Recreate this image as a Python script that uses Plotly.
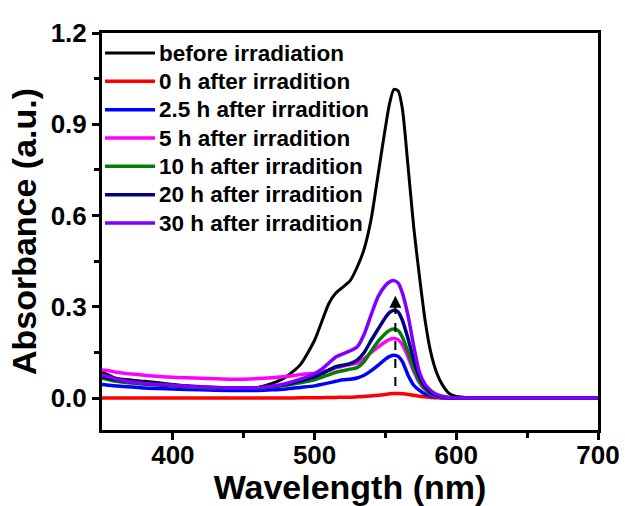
import plotly.graph_objects as go

wavelength = [350, 355, 360, 380, 400, 420, 440, 460, 470, 480, 490, 500, 505, 510, 515, 520,
              525, 530, 535, 540, 545, 550, 553, 556, 559, 562, 566, 570, 574, 578, 582, 586,
              590, 595, 600, 610, 650, 700]

before_irr = [0.085, 0.075, 0.065, 0.055, 0.045, 0.035, 0.030, 0.035, 0.048, 0.070, 0.110, 0.190,
              0.250, 0.310, 0.345, 0.365, 0.385, 0.430, 0.490, 0.590, 0.740, 0.890, 0.970, 1.015,
              1.010, 0.950, 0.760, 0.560, 0.400, 0.255, 0.150, 0.085, 0.045, 0.015, 0.005, 0.001,
              0.0, 0.0]
h0 = [0.0, 0.0, 0.0, 0.0, 0.0, 0.0, 0.0, 0.0, 0.0, 0.0, 0.001, 0.001, 0.001, 0.002, 0.002, 0.003,
      0.003, 0.004, 0.005, 0.007, 0.009, 0.012, 0.014, 0.015, 0.015, 0.014, 0.012, 0.009, 0.006,
      0.004, 0.002, 0.001, 0.0, 0.0, 0.0, 0.0, 0.0, 0.0]
h2_5 = [0.045, 0.042, 0.040, 0.033, 0.030, 0.027, 0.025, 0.025, 0.027, 0.030, 0.035, 0.040, 0.045,
        0.050, 0.055, 0.060, 0.062, 0.066, 0.075, 0.090, 0.108, 0.128, 0.137, 0.141, 0.137, 0.120,
        0.075, 0.042, 0.025, 0.013, 0.007, 0.003, 0.001, 0.0, 0.0, 0.0, 0.0, 0.0]
h5 = [0.092, 0.090, 0.085, 0.075, 0.068, 0.065, 0.062, 0.064, 0.067, 0.071, 0.077, 0.082, 0.086,
      0.091, 0.100, 0.105, 0.110, 0.115, 0.130, 0.150, 0.168, 0.185, 0.193, 0.196, 0.192, 0.175,
      0.135, 0.088, 0.050, 0.027, 0.013, 0.006, 0.003, 0.001, 0.0, 0.0, 0.0, 0.0]
h10 = [0.065, 0.060, 0.055, 0.045, 0.040, 0.035, 0.032, 0.033, 0.036, 0.042, 0.050, 0.060, 0.068,
       0.076, 0.085, 0.090, 0.095, 0.100, 0.120, 0.155, 0.187, 0.212, 0.223, 0.227, 0.222, 0.200,
       0.152, 0.098, 0.055, 0.030, 0.015, 0.007, 0.003, 0.001, 0.0, 0.0, 0.0, 0.0]
h20 = [0.070, 0.065, 0.060, 0.048, 0.042, 0.037, 0.033, 0.034, 0.038, 0.045, 0.057, 0.070, 0.080,
       0.092, 0.103, 0.108, 0.113, 0.125, 0.150, 0.190, 0.228, 0.265, 0.282, 0.289, 0.283, 0.255,
       0.195, 0.125, 0.070, 0.037, 0.018, 0.009, 0.004, 0.001, 0.0, 0.0, 0.0, 0.0]
h30 = [0.075, 0.070, 0.062, 0.048, 0.042, 0.036, 0.033, 0.034, 0.039, 0.048, 0.062, 0.080, 0.095,
       0.115, 0.135, 0.145, 0.155, 0.168, 0.210, 0.275, 0.335, 0.370, 0.382, 0.386, 0.378, 0.345,
       0.270, 0.170, 0.085, 0.045, 0.025, 0.012, 0.006, 0.002, 0.0, 0.0, 0.0, 0.0]

series_names = ["before irradiation", "0 h after irradition", "2.5 h after irradition",
                "5 h after irradition", "10 h after irradition", "20 h after irradition",
                "30 h after irradition"]
series_values = [before_irr, h0, h2_5, h5, h10, h20, h30]
series_colors = ["#000000", "#FF0000", "#0000FF", "#FF00FF", "#008000", "#000080", "#8000FF"]
series_widths = [3, 3.5, 3.5, 3.5, 3.5, 3.5, 3.5]

arrow_x = 557
arrow_y0 = 0.04
arrow_y1 = 0.336

x_ticks = [400, 500, 600, 700]
y_ticks = [0.0, 0.3, 0.6, 0.9, 1.2]

FONT = "Liberation Sans, Arial, sans-serif"

fig = go.Figure()
for name, vals, col, w in zip(series_names, series_values, series_colors, series_widths):
    fig.add_trace(go.Scatter(x=wavelength, y=vals, mode="lines",
                             name=f"<span style='font-size:22.5px'>{name}</span>",
                             line=dict(color=col, width=w, shape="spline", smoothing=0.6)))

# dashed arrow
fig.add_trace(go.Scatter(x=[arrow_x, arrow_x], y=[arrow_y0, arrow_y1 - 0.02], mode="lines",
                         line=dict(color="black", width=2, dash="dash"), showlegend=False,
                         hoverinfo="skip"))
fig.add_annotation(x=arrow_x, y=arrow_y1, ax=arrow_x, ay=arrow_y1 - 0.03, xref="x", yref="y",
                   axref="x", ayref="y", showarrow=True, arrowhead=2, arrowsize=1.2,
                   arrowwidth=2, arrowcolor="black", text="")

fig.update_layout(
    width=625, height=506,
    margin=dict(l=102, r=27, t=33, b=76),
    paper_bgcolor="white", plot_bgcolor="white",
    font=dict(family=FONT, color="black", weight="bold"),
    showlegend=True,
    legend=dict(x=0.0, y=0.998, xanchor="left", yanchor="top", bgcolor="rgba(0,0,0,0)",
                font=dict(size=19.5, family=FONT, weight="bold"), itemwidth=47,
                tracegroupgap=0),
    xaxis=dict(range=[350, 700], tickvals=x_ticks, ticktext=[str(v) for v in x_ticks],
               showline=True, mirror=True, linecolor="black", linewidth=3,
               ticks="outside", ticklen=7, tickwidth=2.5, tickcolor="black",
               tickfont=dict(size=26, family=FONT, weight="bold"), ticklabelstandoff=-7,
               minor=dict(tickvals=[450, 550, 650], ticks="outside", ticklen=5, tickwidth=2.5,
                          tickcolor="black"),
               showgrid=False, zeroline=False, automargin=False,
               title=dict(text="Wavelength (nm)", font=dict(size=34, family=FONT, weight="bold"),
                          standoff=0)),
    yaxis=dict(range=[-0.105, 1.2], tickvals=y_ticks, ticktext=[f"{v:.1f}" for v in y_ticks],
               showline=True, mirror=True, linecolor="black", linewidth=3,
               ticks="outside", ticklen=7, tickwidth=2.5, tickcolor="black",
               tickfont=dict(size=26, family=FONT, weight="bold"),
               minor=dict(tickvals=[0.15, 0.45, 0.75, 1.05], ticks="outside", ticklen=5,
                          tickwidth=2.5, tickcolor="black"),
               showgrid=False, zeroline=False, automargin=False,
               title=dict(text="Absorbance (a.u.)", font=dict(size=34, family=FONT, weight="bold"),
                          standoff=4)),
)

post = """
document.body.style.margin='0';
document.querySelectorAll('.legendlines path').forEach(function(p){p.setAttribute('d','M3,0h50');});
"""
fig.write_html("out.html", post_script=post, config={"displayModeBar": False})
